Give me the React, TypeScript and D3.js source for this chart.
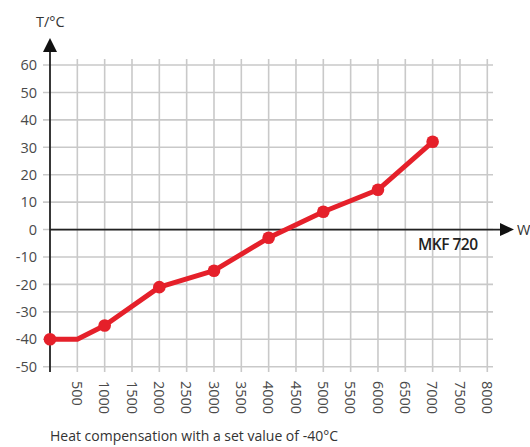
import React from "react";
import * as d3 from "d3";

const powerW = [0, 500, 1000, 2000, 3000, 4000, 5000, 6000, 7000];
const tempC = [-40, -40, -35, -21, -15, -3, 6.5, 14.5, 32];
const markerShown = [true, false, true, true, true, true, true, true, true];
const xTicks = [500, 1000, 1500, 2000, 2500, 3000, 3500, 4000, 4500, 5000, 5500, 6000, 6500, 7000, 7500, 8000];
const yTicks = [60, 50, 40, 30, 20, 10, 0, -10, -20, -30, -40, -50];

const W = 530, H = 447;
const font = "'Open Sans', 'Noto Sans', sans-serif";

export default function App() {
  const x = d3.scaleLinear().domain([0, 8000]).range([50, 487.3]);
  const y = d3.scaleLinear().domain([-50, 60]).range([366.7, 65]);
  const line = d3.line<number>().x((_, i) => x(powerW[i])).y((d) => y(d));
  const red = "#e5202a";
  const grid = "#c9c9c9";
  const gridBottom = 372;
  const gridTop = 59;
  const gridRight = 493;
  return (
    <svg width={W} height={H} style={{ position: "absolute", left: 0, top: 0 }}>
      <rect width={W} height={H} fill="#fff" />
      {xTicks.map((t) => (
        <line key={"vx" + t} x1={x(t)} x2={x(t)} y1={gridTop} y2={gridBottom} stroke={grid} strokeWidth={1.6} />
      ))}
      {yTicks.map((t) => (
        <line key={"hy" + t} x1={43} x2={gridRight} y1={y(t)} y2={y(t)} stroke={grid} strokeWidth={1.6} />
      ))}
      {yTicks.map((t) => (
        <text key={"ty" + t} x={37} y={y(t)} dy="0.36em" textAnchor="end" fontFamily={font} fontSize={14.5} fill="#4a4a4a">
          {t}
        </text>
      ))}
      {xTicks.map((t) => (
        <text
          key={"tx" + t}
          transform={`translate(${x(t)},381) rotate(90)`}
          dy="0.36em"
          textAnchor="start"
          fontFamily={font}
          fontSize={14.5}
          fill="#4a4a4a"
        >
          {d3.format("")(t)}
        </text>
      ))}
      {/* y axis */}
      <line x1={x(0)} x2={x(0)} y1={50} y2={gridBottom} stroke="#222" strokeWidth={1.8} />
      <path d={`M${x(0)},38 L${x(0) + 7},52 L${x(0) - 7},52 Z`} fill="#111" />
      {/* x axis */}
      <line x1={x(0)} x2={502} y1={y(0)} y2={y(0)} stroke="#222" strokeWidth={1.8} />
      <path d={`M514,${y(0)} L500,${y(0) - 6.5} L500,${y(0) + 6.5} Z`} fill="#111" />
      <text x={517} y={y(0)} dy="0.36em" fontFamily={font} fontSize={14.5} fill="#333">W</text>
      <text x={36} y={27} fontFamily={font} fontSize={14.5} fill="#333">T/°C</text>
      <text x={418} y={250} fontFamily={font} fontSize={15.5} fontWeight={600} fill="#222" letterSpacing={-0.5}>MKF 720</text>
      <path d={line(tempC) || ""} fill="none" stroke={red} strokeWidth={5} strokeLinejoin="round" />
      {tempC.map((t, i) =>
        markerShown[i] ? <circle key={"m" + i} cx={x(powerW[i])} cy={y(t)} r={6.3} fill={red} /> : null
      )}
      <text x={50} y={441} fontFamily={font} fontSize={14} fill="#333">
        Heat compensation with a set value of -40°C
      </text>
    </svg>
  );
}
